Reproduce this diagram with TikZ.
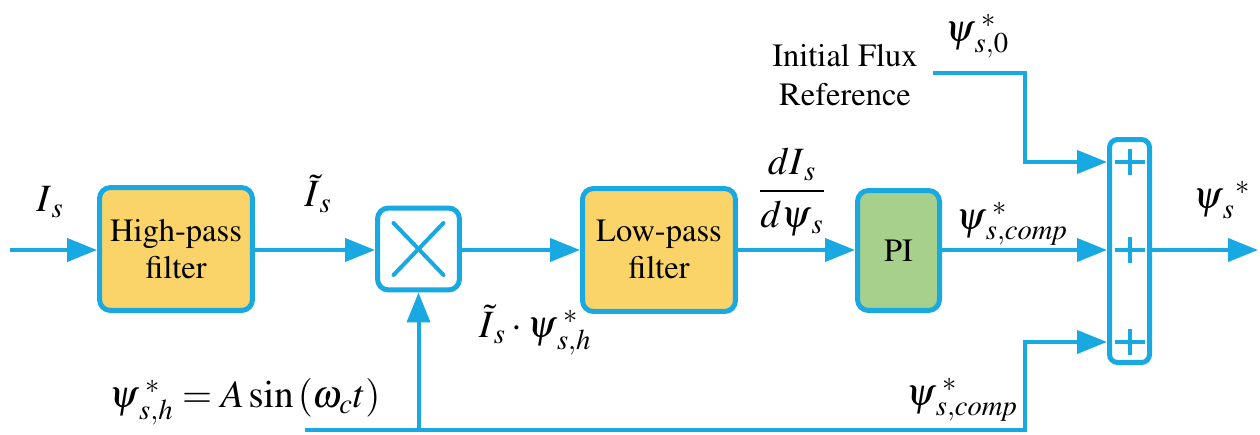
\documentclass[tikz,border=0pt]{standalone}
\usepackage{amsmath}
\usepackage[T1]{fontenc}
\usepackage{mathptmx}
\usetikzlibrary{arrows.meta}
\definecolor{lineblue}{RGB}{24,168,226}
\definecolor{filtfill}{RGB}{250,212,104}
\definecolor{pifill}{RGB}{168,208,141}
\begin{document}
\begin{tikzpicture}[x=0.02cm,y=-0.02cm,
  wire/.style={draw=lineblue,line width=0.08cm},
  sig/.style={wire,-{Triangle[length=0.6cm,width=0.46cm]}},
  blockbox/.style={draw=lineblue,line width=0.1cm,rounded corners=0.22cm,
    align=center,font=\fontsize{18.5}{21}\selectfont},
  filt/.style={blockbox,fill=filtfill,minimum width=3.06cm,minimum height=2.46cm},
  lbl/.style={font=\fontsize{22}{26}\selectfont,inner sep=0pt},
  txt/.style={font=\fontsize{18.5}{22}\selectfont,align=center,inner sep=0pt}]
\useasboundingbox (0,0) rectangle (1260,435);

% blocks
\node[filt] (hpf) at (176,249) {High-pass\\filter};
\node[blockbox,fill=white,minimum width=1.64cm,minimum height=1.64cm] (mult) at (418.5,249) {};
\node[filt] (lpf) at (659,250) {Low-pass\\filter};
\node[blockbox,fill=pifill,minimum width=1.64cm,minimum height=2.4cm] (pi) at (898.5,250.5) {PI};
\node[blockbox,rounded corners=0.16cm,minimum width=0.8cm,minimum height=4.46cm] (sum) at (1129.5,251) {};

% multiplier cross
\draw[wire,line cap=round] ([shift={(-25,-26)}]mult.center) -- ([shift={(25,26)}]mult.center);
\draw[wire,line cap=round] ([shift={(25,-26)}]mult.center) -- ([shift={(-25,26)}]mult.center);

% summing inputs
\coordinate (p1) at (1129.5,162);
\coordinate (p2) at (1129.5,250);
\coordinate (p3) at (1129.5,342);
\foreach \p in {p1,p2,p3}{
  \draw[wire] ([shift={(-15,0)}]\p) -- ([shift={(15,0)}]\p);
  \draw[wire] ([shift={(0,-13)}]\p) -- ([shift={(0,13)}]\p);
}

% free ends of the connectors
\coordinate (in) at (10,250);
\coordinate (out) at (1258,250);
\coordinate (ref) at (933,73);
\coordinate (bl) at (305,430);
\coordinate (br) at (1025,430);

% signal path
\draw[sig] (in) -- (hpf.west |- in);
\draw[sig] (hpf.east |- in) -- (mult.west |- in);
\draw[sig] (mult.east |- in) -- (lpf.west |- in);
\draw[sig] (lpf.east |- in) -- (pi.west |- in);
\draw[sig] (pi.east |- p2) -- (sum.west |- p2);
\draw[sig] (sum.east |- p2) -- (out);
\draw[sig] (ref) -- (br |- ref) -- (br |- p1) -- (sum.west |- p1);
\draw[sig] (bl) -- (br) -- (br |- p3) -- (sum.west |- p3);
\draw[sig] (mult.south |- bl) -- (mult.south);

% labels
\node[lbl] (lIs) at (50,202) {$I_{\,s}$};
\node[lbl] (lIt) at (318,194) {$\tilde{I}_{\,s}$};
\node[lbl] (lprod) at (535,330) {$\tilde{I}_{\,s}\cdot\psi^{\;*}_{\,s,h}$};
\node[lbl] (lfrac) at (792,192) {$\dfrac{dI_{\,s}}{d\psi_{\,s}}$};
\node[lbl] (lcomp) at (1012,224) {$\psi^{\;*}_{\,s,\mathit{comp}}$};
\node[lbl] (lzero) at (977,36) {$\psi^{\;*}_{\,s,0}$};
\node[lbl] (lout) at (1222,200) {$\psi_{\,s}^{\;\;*}$};
\node[lbl] (lcomp2) at (962,400) {$\psi^{\;*}_{\,s,\mathit{comp}}$};
\node[lbl] (leq) at (245,402) {$\psi^{\;*}_{\,s,h} = A\sin\left(\omega_{c}t\right)$};
\node[txt] (lref) at (845,75) {Initial Flux\\Reference};
\end{tikzpicture}
\end{document}
